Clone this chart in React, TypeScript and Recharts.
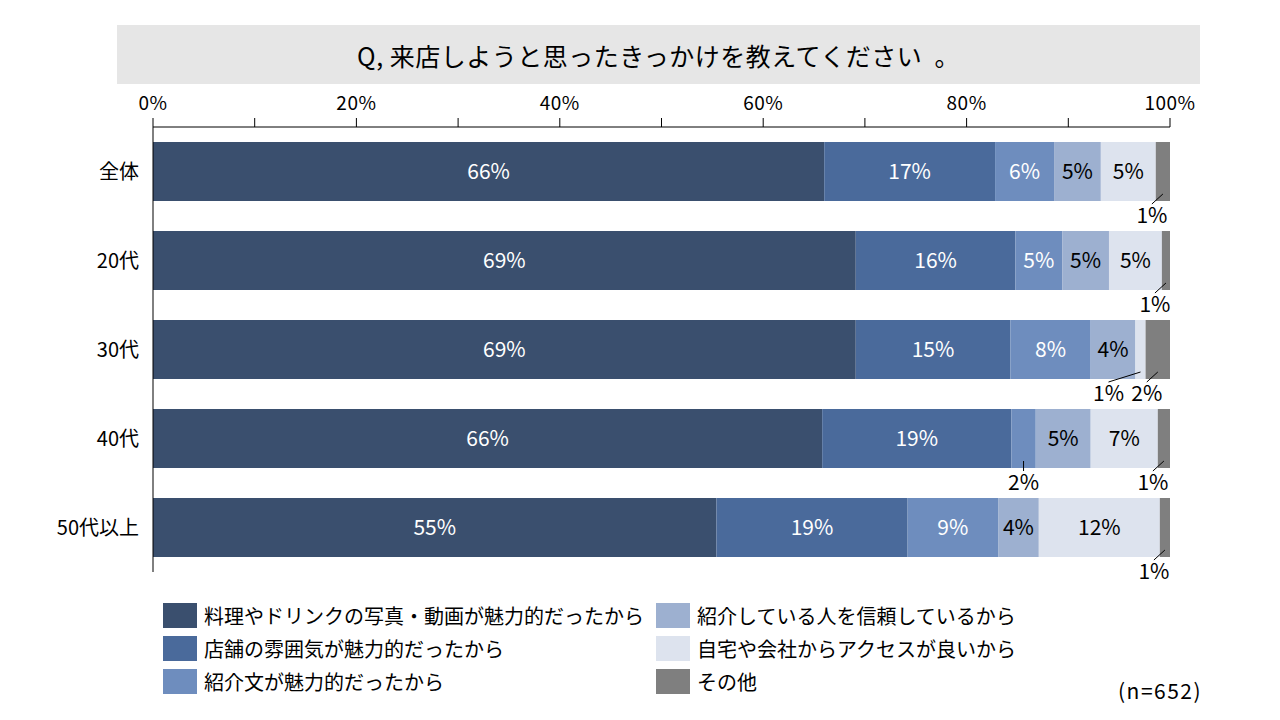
import React from "react";
import { BarChart, Bar, XAxis, YAxis, LabelList } from "recharts";

const categories = ["全体", "20代", "30代", "40代", "50代以上"];

const seriesNames = [
  "料理やドリンクの写真・動画が魅力的だったから",
  "店舗の雰囲気が魅力的だったから",
  "紹介文が魅力的だったから",
  "紹介している人を信頼しているから",
  "自宅や会社からアクセスが良いから",
  "その他",
];

const photo = [66.0, 69.1, 69.1, 65.8, 55.4];
const atmosphere = [16.8, 15.7, 15.2, 18.6, 18.8];
const intro = [5.8, 4.6, 7.9, 2.4, 8.9];
const trust = [4.6, 4.6, 4.4, 5.4, 4.0];
const access = [5.4, 5.2, 1.0, 6.6, 11.9];
const other = [1.4, 0.8, 2.4, 1.2, 1.0];

const xTicks = [0, 10, 20, 30, 40, 50, 60, 70, 80, 90, 100];

const colors = ["#3A4F6E", "#4A6A9B", "#6E8DBE", "#9DB0D0", "#DDE3EE", "#7F7F7F"];
const labelFills = ["#fff", "#fff", "#fff", "#000", "#000", "#000"];
const FONT = '"Noto Sans CJK JP", "Noto Sans", sans-serif';

const seriesValues = [photo, atmosphere, intro, trust, access, other];
const keys = ["s0", "s1", "s2", "s3", "s4", "s5"];

const data = categories.map((name, i) => {
  const row: Record<string, number | string> = { name };
  seriesValues.forEach((vals, s) => {
    row[keys[s]] = vals[i];
  });
  return row;
});

// horizontal shift of labels placed under the bar (small segments)
function outsideShift(row: number, s: number) {
  if (s === 5) return -11;
  if (row === 2 && s === 4) return -32;
  return 0;
}

function makeLabel(s: number) {
  return (props: any) => {
    const { x, y, width, height, value, index } = props;
    const v = Number(value);
    const cx = Number(x) + Number(width) / 2;
    const cy = Number(y) + Number(height) / 2;
    const txt = `${Math.round(v)}%`;
    if (v >= 3) {
      return (
        <text x={cx} y={cy} dy={7} textAnchor="middle" fontSize={21} fill={labelFills[s]} fontFamily={FONT}>
          {txt}
        </text>
      );
    }
    const bottom = Number(y) + Number(height);
    const lx = cx + outsideShift(index, s);
    return (
      <g>
        <line x1={cx} y1={bottom - 7} x2={lx} y2={bottom + 3} stroke="#000" strokeWidth={1} />
        <text x={lx} y={bottom + 22} textAnchor="middle" fontSize={21} fill="#000" fontFamily={FONT}>
          {txt}
        </text>
      </g>
    );
  };
}

function XTick(props: any) {
  const { x, y, payload } = props;
  if (payload.value % 20 !== 0) return <g />;
  return (
    <text x={x} y={y - 6} textAnchor="middle" fontSize={19} fill="#000" fontFamily={FONT} letterSpacing={0.5}>
      {`${payload.value}%`}
    </text>
  );
}

export default function App() {
  return (
    <div style={{ position: "absolute", left: 0, top: 0, width: 1280, height: 720, background: "#fff", fontFamily: FONT }}>
      <div
        style={{
          position: "absolute",
          left: 117,
          top: 25,
          width: 1083,
          height: 59,
          background: "#E6E6E6",
          display: "flex",
          alignItems: "center",
          justifyContent: "center",
          fontSize: 25,
          letterSpacing: 0.5,
          color: "#000",
        }}
      >
        Q, 来店しようと思ったきっかけを教えてください &nbsp;。
      </div>

      <div style={{ position: "absolute", left: 0, top: 0 }}>
        <BarChart
          width={1280}
          height={720}
          data={data}
          layout="vertical"
          margin={{ top: 97, right: 110, bottom: 148, left: 13 }}
          barSize={59}
        >
          <XAxis
            type="number"
            orientation="top"
            domain={[0, 100]}
            ticks={xTicks}
            interval={0}
            height={30}
            axisLine={{ stroke: "#000" }}
            tickLine={{ stroke: "#000" }}
            tickSize={9}
            tick={<XTick />}
          />
          <YAxis
            type="category"
            dataKey="name"
            width={140}
            axisLine={{ stroke: "#000" }}
            tickLine={false}
            tickMargin={8}
            tick={{ fontSize: 20, fill: "#000", fontFamily: FONT }}
          />
          {keys.map((k, s) => (
            <Bar key={k} dataKey={k} stackId="a" fill={colors[s]} name={seriesNames[s]} isAnimationActive={false}>
              <LabelList dataKey={k} content={makeLabel(s)} />
            </Bar>
          ))}
        </BarChart>
      </div>

      {seriesNames.map((n, s) => {
        const col = s < 3 ? 0 : 1;
        const row = s % 3;
        const left = col === 0 ? 163 : 656;
        const top = 603 + row * 33;
        return (
          <div key={n} style={{ position: "absolute", left, top, display: "flex", alignItems: "center", height: 25 }}>
            <div style={{ width: 34, height: 25, background: colors[s] }} />
            <div style={{ marginLeft: 7, fontSize: 20, color: "#000", whiteSpace: "nowrap", lineHeight: "25px" }}>{n}</div>
          </div>
        );
      })}

      <div style={{ position: "absolute", left: 1118, top: 675, fontSize: 21, letterSpacing: 1.5, color: "#000" }}>(n=652)</div>
    </div>
  );
}
